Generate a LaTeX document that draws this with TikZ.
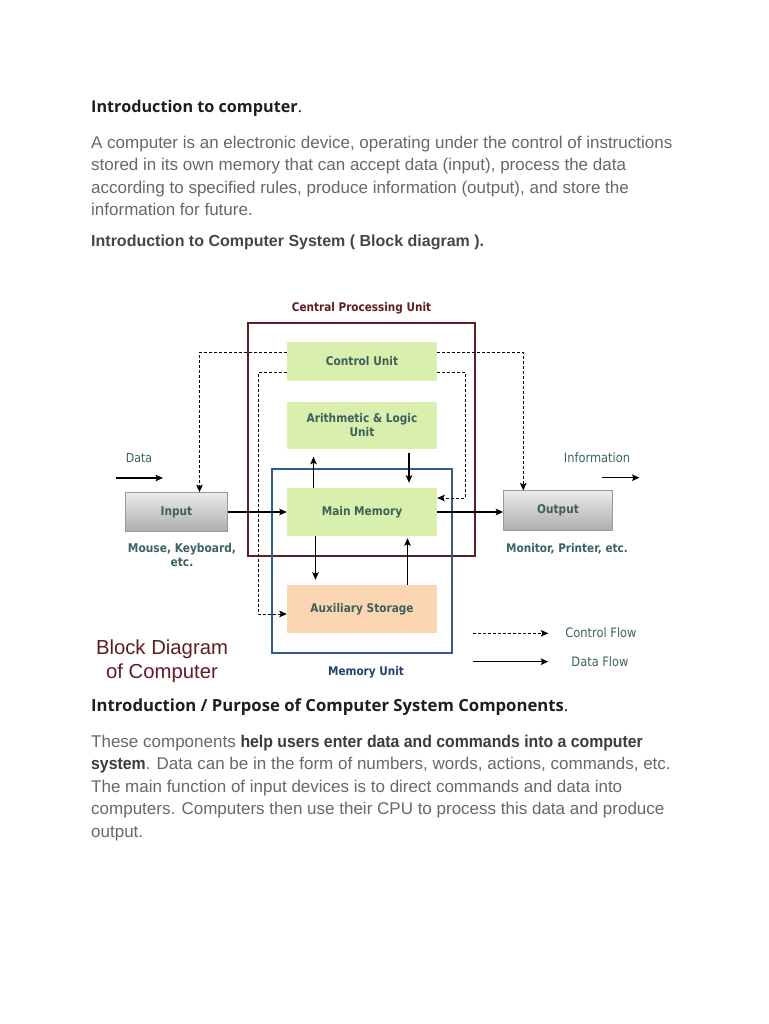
\documentclass[tikz,border=0pt]{standalone}
\usepackage{fontspec}
\setmainfont{Liberation Sans}
\newfontfamily\headfont{Open Sans}
\newfontfamily\diagfont[FakeStretch=0.88]{DejaVu Sans}
\newfontfamily\narrowbold[FakeStretch=0.93]{Liberation Sans Bold}
\usetikzlibrary{arrows.meta}
\definecolor{headcol}{RGB}{30,30,30}
\definecolor{bodycol}{RGB}{104,104,104}
\definecolor{boldcol}{RGB}{60,60,60}
\definecolor{head2col}{RGB}{70,70,70}
\definecolor{cpucol}{RGB}{95,30,35}
\definecolor{memcol}{RGB}{50,90,140}
\definecolor{greenfill}{RGB}{216,239,173}
\definecolor{auxfill}{RGB}{251,214,178}
\definecolor{diagtext}{RGB}{62,96,88}
\definecolor{labtext}{RGB}{58,100,100}
\definecolor{memtext}{RGB}{35,65,110}
\tikzset{
  bodyline/.style={anchor=base west,inner sep=0pt,text=bodycol,font=\fontsize{17}{20}\selectfont},
  container/.style={draw,line width=2pt,fill=none},
  unitbox/.style={fill=greenfill,draw=none,minimum width=150pt,align=center,inner sep=0pt,text=diagtext,font=\diagfont\bfseries\fontsize{12}{14}\selectfont},
  iobox/.style={top color=black!8,bottom color=black!32,draw=black!40,line width=0.6pt,inner sep=0pt,text=diagtext,font=\diagfont\bfseries\fontsize{12}{14}\selectfont},
  lab/.style={inner sep=0pt,align=center,text=labtext,font=\diagfont\bfseries\fontsize{11.9}{14}\selectfont},
  flowlab/.style={inner sep=0pt,text=labtext,font=\diagfont\fontsize{13}{15}\selectfont},
  dataflow/.style={line width=1.3pt,-{Stealth[length=7.5pt,width=6.5pt,inset=1.5pt]}},
  ctrlflow/.style={line width=0.9pt,dash pattern=on 3pt off 2pt,-{Stealth[length=7.5pt,width=6.5pt,inset=1.5pt]}}
}
\begin{document}
\begin{tikzpicture}[x=1pt,y=-1pt]
\useasboundingbox (0,0) rectangle (768,1024);
\fill[white] (0,0) rectangle (768,1024);

% ---------- top text ----------
\node[anchor=base west,inner sep=0pt,text=headcol,font=\headfont\fontsize{16.2}{19}\selectfont] (h1) at (91,113) {\bfseries Introduction to computer\mdseries.};
\node[bodyline] (p1) at (91,148.5) {A computer is an electronic device, operating under the control of instructions};
\node[bodyline] (p2) at (91,171) {stored in its own memory that can accept data (input), process the data};
\node[bodyline] (p3) at (91,193.5) {according to specified rules, produce information (output), and store the};
\node[bodyline] (p4) at (91,215.5) {information for future.};
\node[anchor=base west,inner sep=0pt,text=head2col,font=\bfseries\fontsize{16}{19}\selectfont] (h2) at (91,246.5) {Introduction to Computer System ( Block diagram ).};

% ---------- diagram ----------
\node[container,draw=cpucol,minimum width=227pt,minimum height=233.5pt] (cpu) at (361.5,439.25) {};
\node[container,draw=memcol,minimum width=179.5pt,minimum height=184.5pt] (mem) at (361.75,560.75) {};

\node[lab,text=cpucol] (cpulab) at (361.5,308) {Central Processing Unit};
\node[lab,text=memtext] (memlab) at (366,672) {Memory Unit};

\node[unitbox,minimum height=39pt] (cu) at (362,361.5) {Control Unit};
\node[unitbox,minimum height=47pt] (alu) at (362,425) {Arithmetic \& Logic\\Unit};
\node[unitbox,minimum height=48pt] (mm) at (362,512) {Main Memory};
\node[unitbox,minimum height=48pt,fill=auxfill] (aux) at (362,609) {Auxiliary Storage};

\node[iobox,minimum width=102pt,minimum height=39pt] (in) at (176.5,512) {Input};
\node[iobox,minimum width=109pt,minimum height=39.5pt] (out) at (558,510.5) {Output};

\node[lab,font=\diagfont\bfseries\fontsize{12.1}{14}\selectfont] (inlab) at (182,555) {Mouse, Keyboard,\\etc.};
\node[lab] (outlab) at (567,549) {Monitor, Printer, etc.};

\node[flowlab,font=\diagfont\fontsize{12.5}{15}\selectfont] (datalab) at (139,458) {Data};
\node[flowlab] (infolab) at (597,458) {Information};

\coordinate (dA) at (116,478);
\coordinate (dB) at (163,478);
\coordinate (iA) at (602,477.7);
\coordinate (iB) at (639.5,477.7);
\draw[dataflow] (dA) -- (dB);
\draw[dataflow] (iA) -- (iB);

\draw[dataflow] (in.east) -- (mm.west);
\draw[dataflow] (mm.east) -- (mm.east -| out.west);

\draw[dataflow,shorten >=8pt] ([xshift=-48.5pt]mm.north) -- ([xshift=-48.5pt]alu.south);
\draw[dataflow,shorten <=4pt,shorten >=5pt] ([xshift=47pt]alu.south) -- ([xshift=47pt]mm.north);
\draw[dataflow,shorten >=5pt] ([xshift=-46.5pt]mm.south) -- ([xshift=-46.5pt]aux.north);
\draw[dataflow,shorten >=2pt] ([xshift=45.5pt]aux.north) -- ([xshift=45.5pt]mm.south);

\draw[ctrlflow] ([yshift=9.5pt]cu.west) -| ([xshift=23pt]in.north);
\draw[ctrlflow] ([yshift=9.5pt]cu.east) -| ([xshift=-34.7pt]out.north);
\draw[ctrlflow] ([yshift=-10.5pt]cu.west) -- ++(-28.5,0) |- ([yshift=-5pt]aux.west);
\draw[ctrlflow] ([yshift=-10.5pt]cu.east) -- ++(28,0) |- ([yshift=14pt]mm.east);

\node[inner sep=0pt,align=center,text=cpucol,font=\fontsize{20.3}{24}\selectfont] (bd) at (162,661) {Block Diagram\\of Computer};

\coordinate (cA) at (472.7,633.3);
\coordinate (cB) at (548.3,633.3);
\coordinate (fA) at (472.7,661.7);
\coordinate (fB) at (548.3,661.7);
\draw[ctrlflow] (cA) -- (cB);
\draw[dataflow] (fA) -- (fB);
\node[flowlab] (cflab) at (601,633) {Control Flow};
\node[flowlab] (dflab) at (600,662) {Data Flow};

% ---------- bottom text ----------
\node[anchor=base west,inner sep=0pt,text=headcol,font=\headfont\fontsize{16.7}{19}\selectfont] (h3) at (91,711) {\bfseries Introduction / Purpose of Computer System Components\mdseries.};
\node[bodyline] (q1) at (91,747) {These components \textcolor{boldcol}{\narrowbold help users enter data and commands into a computer}};
\node[bodyline] (q2) at (91,769.5) {\textcolor{boldcol}{\narrowbold system}. Data can be in the form of numbers, words, actions, commands, etc.};
\node[bodyline] (q3) at (91,792) {The main function of input devices is to direct commands and data into};
\node[bodyline] (q4) at (91,814.5) {computers. Computers then use their CPU to process this data and produce};
\node[bodyline] (q5) at (91,837) {output.};
\end{tikzpicture}
\end{document}
